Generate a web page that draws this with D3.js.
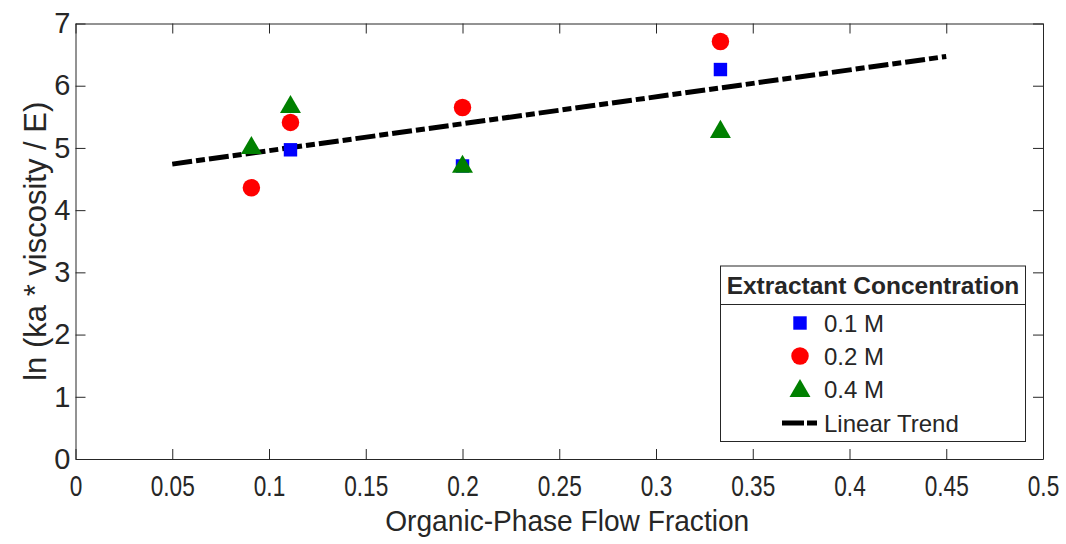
<!DOCTYPE html>
<html>
<head>
<meta charset="utf-8">
<script src="https://cdn.jsdelivr.net/npm/d3@7"></script>
<style>
  html, body { margin: 0; padding: 0; background: #fff; }
  svg { display: block; }
  text { font-family: "Liberation Sans", Arial, sans-serif; fill: #262626; }
</style>
</head>
<body>
<svg id="chart" width="1066" height="544"></svg>
<script>
// Extraction kinetics vs. organic-phase flow fraction
const xTicks = [0, 0.05, 0.1, 0.15, 0.2, 0.25, 0.3, 0.35, 0.4, 0.45, 0.5];
const yTicks = [0, 1, 2, 3, 4, 5, 6, 7];

const conc01X = [0.1111, 0.2, 0.3333];
const conc01Y = [4.97, 4.71, 6.26];

const conc02X = [0.0909, 0.1111, 0.2, 0.3333];
const conc02Y = [4.36, 5.41, 5.65, 6.71];

const conc04X = [0.0909, 0.1111, 0.2, 0.3333];
const conc04Y = [5.03, 5.69, 4.73, 5.29];

const trendX = [0.05, 0.45];
const trendY = [4.74, 6.47];

const seriesNames = ["0.1 M", "0.2 M", "0.4 M"];
const trendName = "Linear Trend";
const legendTitle = "Extractant Concentration";

const svg = d3.select("#chart");
const plotL = 75.5, plotR = 1043, plotT = 23.5, plotB = 459;

const x = d3.scaleLinear().domain([0, 0.5]).range([plotL, plotR]);
const y = d3.scaleLinear().domain([0, 7]).range([plotB, plotT]);

const axisColor = "#262626";
const tickFont = 29;

// frame with inward ticks on all four sides
function styleAxis(g) {
  g.select(".domain").attr("stroke", axisColor).attr("stroke-width", 1);
  g.selectAll(".tick line").attr("stroke", axisColor).attr("stroke-width", 1);
}

const gx = svg.append("g")
  .attr("transform", `translate(0,${plotB})`)
  .call(d3.axisBottom(x).tickValues(xTicks).tickSizeInner(-10).tickSizeOuter(0)
    .tickPadding(16).tickFormat(d => String(d)));
styleAxis(gx);
// narrow x tick labels, condensed around each tick
gx.selectAll(".tick text")
  .attr("font-size", tickFont)
  .attr("fill", axisColor)
  .attr("transform", "scale(0.78,1)");

const gxTop = svg.append("g")
  .attr("transform", `translate(0,${plotT})`)
  .call(d3.axisTop(x).tickValues(xTicks).tickSizeInner(-10).tickSizeOuter(0).tickFormat(""));
styleAxis(gxTop);

const gy = svg.append("g")
  .attr("transform", `translate(${plotL},0)`)
  .call(d3.axisLeft(y).tickValues(yTicks).tickSizeInner(-10).tickSizeOuter(0)
    .tickPadding(5).tickFormat(d3.format("d")));
styleAxis(gy);
gy.selectAll(".tick text").attr("font-size", tickFont).attr("fill", axisColor);

const gyRight = svg.append("g")
  .attr("transform", `translate(${plotR},0)`)
  .call(d3.axisRight(y).tickValues(yTicks).tickSizeInner(-10).tickSizeOuter(0).tickFormat(""));
styleAxis(gyRight);

// axis titles
const midX = (plotL + plotR) / 2;
svg.append("text")
  .attr("transform", `translate(${midX + 8},531) scale(0.97,1)`)
  .attr("text-anchor", "middle")
  .attr("font-size", 29)
  .text("Organic-Phase Flow Fraction");

svg.append("text")
  .attr("transform", `translate(46,${(plotT + plotB) / 2}) rotate(-90)`)
  .attr("text-anchor", "middle")
  .attr("font-size", 31)
  .text("ln (ka * viscosity / E)");

// linear trend
const line = d3.line().x(d => x(d[0])).y(d => y(d[1]));
svg.append("path")
  .datum(d3.zip(trendX, trendY))
  .attr("d", line)
  .attr("fill", "none")
  .attr("stroke", "#000")
  .attr("stroke-width", 5)
  .attr("stroke-dasharray", "20,4,9,4");

// markers
const sym = {
  square: d3.symbol().type(d3.symbolSquare).size(180),
  circle: d3.symbol().type(d3.symbolCircle).size(240),
  triangle: d3.symbol().type(d3.symbolTriangle).size(190)
};
const series = [
  { xs: conc01X, ys: conc01Y, color: "#0000ff", shape: "square" },
  { xs: conc02X, ys: conc02Y, color: "#ff0000", shape: "circle" },
  { xs: conc04X, ys: conc04Y, color: "#008000", shape: "triangle" }
];
series.forEach(s => {
  svg.append("g").selectAll("path")
    .data(d3.zip(s.xs, s.ys))
    .join("path")
    .attr("d", sym[s.shape]())
    .attr("transform", d => `translate(${x(d[0])},${y(d[1]) + (s.shape === "triangle" ? 2 : 0)})`)
    .attr("fill", s.color);
});

// legend
const lg = svg.append("g");
const lx = 720.5, ly = 266, lw = 305, lh = 175.5;
lg.append("rect").attr("x", lx).attr("y", ly).attr("width", lw).attr("height", lh)
  .attr("fill", "#fff").attr("stroke", axisColor).attr("stroke-width", 1);
lg.append("line").attr("x1", lx).attr("x2", lx + lw).attr("y1", 304.5).attr("y2", 304.5)
  .attr("stroke", axisColor).attr("stroke-width", 1);
lg.append("text").attr("x", lx + lw / 2).attr("y", 294)
  .attr("text-anchor", "middle").attr("font-size", 24.5).attr("font-weight", "bold")
  .attr("fill", "#000")
  .text(legendTitle);

const rowY = [323, 356, 389, 423];
series.forEach((s, i) => {
  lg.append("path").attr("d", sym[s.shape]())
    .attr("transform", `translate(800,${rowY[i] + (s.shape === "triangle" ? 2 : 0)})`)
    .attr("fill", s.color);
  lg.append("text").attr("x", 824).attr("y", rowY[i] + 9)
    .attr("font-size", 24).attr("fill", "#000").text(seriesNames[i]);
});
lg.append("line").attr("x1", 782).attr("x2", 817).attr("y1", rowY[3]).attr("y2", rowY[3])
  .attr("stroke", "#000").attr("stroke-width", 5).attr("stroke-dasharray", "22,3,10,4");
lg.append("text").attr("x", 824).attr("y", rowY[3] + 9)
  .attr("font-size", 24).attr("fill", "#000").text(trendName);
</script>
</body>
</html>
